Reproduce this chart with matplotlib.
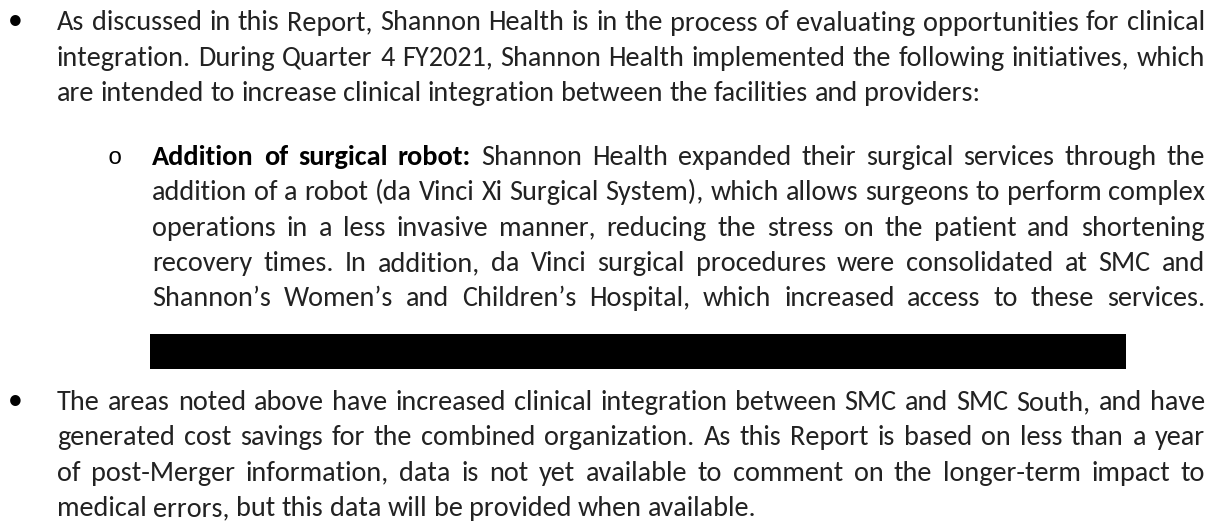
import matplotlib
matplotlib.use('Agg')
import matplotlib.pyplot as plt
from matplotlib.patches import Rectangle

plt.rcParams['font.family'] = ['Carlito', 'DejaVu Sans']

# text of the page, line by line as it is broken in the reference
bullet1_lines = [
    "As discussed in this Report, Shannon Health is in the process of evaluating opportunities for clinical",
    "integration. During Quarter 4 FY2021, Shannon Health implemented the following initiatives, which",
    "are intended to increase clinical integration between the facilities and providers:",
]
sub_heading = "Addition of surgical robot:"
sub_lines = [
    "Shannon Health expanded their surgical services through the",
    "addition of a robot (da Vinci Xi Surgical System), which allows surgeons to perform complex",
    "operations in a less invasive manner, reducing the stress on the patient and shortening",
    "recovery times. In addition, da Vinci surgical procedures were consolidated at SMC and",
    "Shannon\u2019s Women\u2019s and Children\u2019s Hospital, which increased access to these services.",
]
bullet2_lines = [
    "The areas noted above have increased clinical integration between SMC and SMC South, and have",
    "generated cost savings for the combined organization. As this Report is based on less than a year",
    "of post-Merger information, data is not yet available to comment on the longer-term impact to",
    "medical errors, but this data will be provided when available.",
]

W, H = 1220, 529
fig = plt.figure(figsize=(W / 100, H / 100), dpi=100)
ax = fig.add_axes([0, 0, 1, 1])
ax.set_xlim(0, W)
ax.set_ylim(H, 0)
ax.axis('off')
fig.canvas.draw()
rend = fig.canvas.get_renderer()
ink = '#222222'

x_main, x_sub, x_right = 57, 152, 1205


def width(s, size, bold=False):
    t = ax.text(0, 0, s, fontsize=size, fontweight='bold' if bold else 'normal')
    w = t.get_window_extent(rend).width
    t.remove()
    return w


def words_of(line, bold_prefix=None):
    out = []
    if bold_prefix:
        out += [(w, True) for w in bold_prefix.split()]
    out += [(w, False) for w in line.split()]
    return out


def draw_line(words, x0, x1, y, size, justify=True):
    ws = [width(w, size, b) for w, b in words]
    space = width('a a', size) - width('aa', size)
    if justify and len(words) > 1:
        gap = (x1 - x0 - sum(ws)) / (len(words) - 1)
    else:
        gap = space
    x = x0
    for (w, b), wd in zip(words, ws):
        ax.text(x, y, w, fontsize=size, fontweight='bold' if b else 'normal',
                color='black' if b else ink, va='baseline', ha='left')
        x += wd + gap


# fit font size so the tightest justified line still fits
base = 20
blocks = [
    ([words_of(l) for l in bullet1_lines[:2]], x_main),
    ([words_of(sub_lines[0], sub_heading)] + [words_of(l) for l in sub_lines[1:]], x_sub),
    ([words_of(l) for l in bullet2_lines[:3]], x_main),
]
ratio = 10
space = width('a a', base) - width('aa', base)
for lines, x0 in blocks:
    for wl in lines:
        nat = sum(width(w, base, b) for w, b in wl) + space * (len(wl) - 1)
        ratio = min(ratio, (x_right - x0) / nat)
size = base * ratio * 0.998

lh = 35.3

y = 30.5
for i, l in enumerate(bullet1_lines):
    draw_line(words_of(l), x_main, x_right, y + i * lh, size, justify=i < 2)
ax.text(15, y - 1, '\u2022', fontsize=size * 1.05, color='black', va='baseline', ha='center')

y = 165
for i, l in enumerate(sub_lines):
    draw_line(words_of(l, sub_heading if i == 0 else None), x_sub, x_right, y + i * lh, size)
ax.text(115, y - 1, 'o', fontsize=size * 0.85, color='black', va='baseline', ha='center',
        family='Liberation Mono')

# redacted passage
ax.add_patch(Rectangle((150, 334), 976, 35, color='black', lw=0))

y = 410
for i, l in enumerate(bullet2_lines):
    draw_line(words_of(l), x_main, x_right, y + i * lh, size, justify=i < 3)
ax.text(15, y - 1, '\u2022', fontsize=size * 1.05, color='black', va='baseline', ha='center')

fig.savefig('out.png', dpi=100)
